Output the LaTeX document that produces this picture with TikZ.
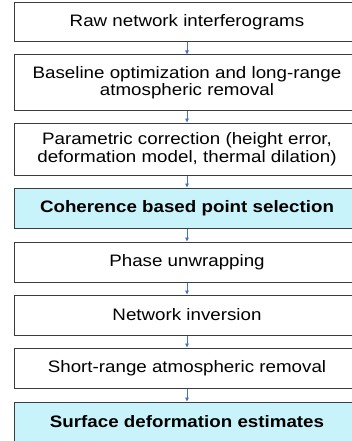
\documentclass[tikz,border=0pt]{standalone}
\usepackage{fontspec}
\setmainfont[FakeStretch=1.13]{Liberation Sans}
\usetikzlibrary{arrows.meta}
\definecolor{boxline}{RGB}{60,60,60}
\definecolor{cyanfill}{RGB}{200,243,250}
\definecolor{arrowblue}{RGB}{68,114,196}
\tikzset{
  stepbox/.style={draw=boxline, line width=1pt, fill=white, rectangle,
    minimum width=346pt, inner sep=0pt, align=center,
    font=\fontsize{16.6}{17.5}\selectfont},
  keybox/.style={stepbox, fill=cyanfill, font=\fontsize{16.6}{17.5}\selectfont\bfseries},
  flow/.style={draw=arrowblue, line width=0.8pt, -{Triangle[length=4pt,width=3.5pt]}}
}
\begin{document}
\begin{tikzpicture}[x=1pt,y=1pt]
\useasboundingbox (0,0) rectangle (352,-441);
\clip (0,0) rectangle (352,-441);
\node[stepbox, minimum height=39pt] (b1) at (187,-22.5) {Raw network interferograms};
\node[stepbox, minimum height=55pt] (b2) at (187,-82.5) {Baseline optimization and long-range\\atmospheric removal};
\node[stepbox, minimum height=52pt] (b3) at (187,-149) {Parametric correction (height error,\\deformation model, thermal dilation)};
\node[keybox, minimum height=40pt] (b4) at (187,-208) {Coherence based point selection};
\node[stepbox, minimum height=40pt] (b5) at (187,-262) {Phase unwrapping};
\node[stepbox, minimum height=40pt] (b6) at (187,-315) {Network inversion};
\node[stepbox, minimum height=40pt] (b7) at (187,-368) {Short-range atmospheric removal};
\node[keybox, minimum height=40pt] (b8) at (187,-422) {Surface deformation estimates};
\draw[flow] (b1) -- (b2);
\draw[flow] (b2) -- (b3);
\draw[flow] (b3) -- (b4);
\draw[flow] (b4) -- (b5);
\draw[flow] (b5) -- (b6);
\draw[flow] (b6) -- (b7);
\draw[flow] (b7) -- (b8);
\end{tikzpicture}
\end{document}
